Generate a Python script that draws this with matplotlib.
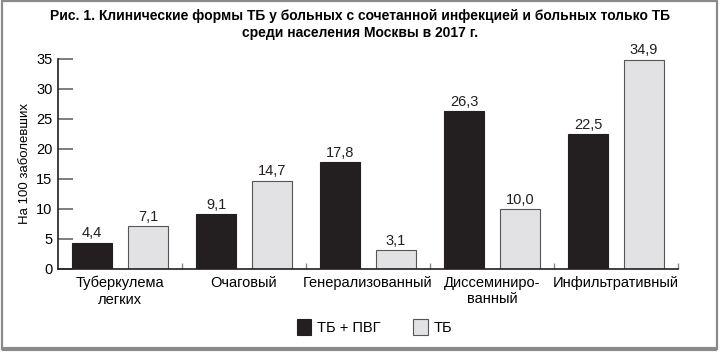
import matplotlib
matplotlib.use('Agg')
import matplotlib.pyplot as plt
import numpy as np
from matplotlib.patches import Rectangle

categories = ['Туберкулема\nлегких', 'Очаговый', 'Генерализованный',
              'Диссеминиро-\nванный', 'Инфильтративный']
tb_hiv = [4.4, 9.1, 17.8, 26.3, 22.5]
tb_only = [7.1, 14.7, 3.1, 10.0, 34.9]
series_names = ['ТБ + ПВГ', 'ТБ']

plt.rcParams['font.family'] = ['Liberation Sans', 'DejaVu Sans']

fig = plt.figure(figsize=(7.2, 3.52), dpi=100)
ax = fig.add_axes([0.0806, 0.2358, 0.8611, 0.5966])

x = np.arange(len(categories))
w = 0.32
b1 = ax.bar(x - 0.225, tb_hiv, w, color='#231f20', edgecolor='#231f20', linewidth=0.8,
            label=series_names[0])
b2 = ax.bar(x + 0.225, tb_only, w, color='#e2e2e4', edgecolor='#555555', linewidth=0.8,
            label=series_names[1])

for bars, vals in [(b1, tb_hiv), (b2, tb_only)]:
    for r, v in zip(bars, vals):
        ax.text(r.get_x() + r.get_width() / 2, v + 0.4, f'{v:.1f}'.replace('.', ','),
                ha='center', va='bottom', fontsize=10.5, color='#231f20')

ax.set_xlim(-0.5, len(categories) - 0.5)
ax.set_ylim(0, 35)
ax.set_yticks(range(0, 36, 5))
ax.tick_params(axis='y', direction='in', length=11, width=1.2, color='#666666',
               labelsize=10.5, pad=4)
ax.set_xticks(x)
ax.set_xticklabels(categories, fontsize=10.5)
ax.tick_params(axis='x', length=0, pad=5)
# small separators between groups
ax.set_xticks(np.arange(0.5, len(categories) - 0.4, 1), minor=True)
ax.tick_params(axis='x', which='minor', direction='in', length=4, width=1, color='#888888')

for s in ['top', 'right']:
    ax.spines[s].set_visible(False)
ax.spines['left'].set_linewidth(1.2)
ax.spines['bottom'].set_linewidth(1.2)
ax.spines['left'].set_color('#231f20')
ax.spines['bottom'].set_color('#231f20')
ax.set_ylabel('На 100 заболевших', fontsize=9.5, labelpad=4)

fig.text(0.5, 0.975, 'Рис. 1. Клинические формы ТБ у больных с сочетанной инфекцией и больных только ТБ\n'
         'среди населения Москвы в 2017 г.', ha='center', va='top', fontsize=10,
         fontweight='bold', linespacing=1.3)

leg = fig.legend(handles=[b1, b2], loc='center', bbox_to_anchor=(0.52, 0.07), ncol=2,
                 frameon=False, fontsize=10.5, handlelength=1.0, handleheight=1.3,
                 columnspacing=2.2, handletextpad=0.4)

fig.patches.append(Rectangle((0.003, 0.008), 0.993, 0.988, transform=fig.transFigure,
                             fill=False, edgecolor='#8a8a8a', linewidth=1.6))
fig.patches.append(Rectangle((0.003, 0.008), 0.993, 0.0, transform=fig.transFigure,
                             fill=False, edgecolor='#8a8a8a', linewidth=3))

fig.savefig('out.png', dpi=100)
